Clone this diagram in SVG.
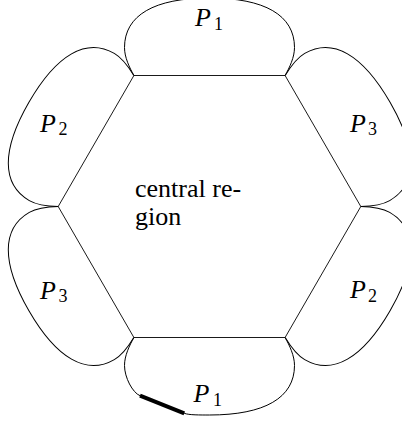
<svg xmlns="http://www.w3.org/2000/svg" width="402" height="424" viewBox="0 0 402 424">
<defs>
<path id="petalTop" d="M133.9 75.5 C129.5 67.5 124.5 57.5 124.5 47.5 C124.5 15.3 154.25 -2 209.5 -2 C264.75 -2 294.5 15.3 294.5 47.5 C294.5 57.5 289.5 67.5 285.1 75.5" fill="none" stroke="#000" stroke-width="1"/>
</defs>
<g id="central-region">
<polygon points="133.9,75.5 285.1,75.5 360.8,206.5 285.1,337.5 133.9,337.5 58.2,206.5" fill="none" stroke="#000" stroke-width="0.9"/>
</g>
<g id="petal-top-P1"><use href="#petalTop"/></g>
<g id="petal-upper-right-P3"><use href="#petalTop" transform="rotate(60 209.5 206.5)"/></g>
<g id="petal-lower-right-P2"><use href="#petalTop" transform="rotate(120 209.5 206.5)"/></g>
<g id="petal-bottom-P1">
<path d="M133.9 337.5 C129.5 345.5 124.5 355.5 124.5 365.5 C124.5 377.5 132.6 392.7 140 395.7 L184.3 413.3 C188.9 415.1 200 415 209.5 415 C264.75 415 294.5 397.7 294.5 365.5 C294.5 355.5 289.5 345.5 285.1 337.5" fill="none" stroke="#000" stroke-width="1"/>
<path d="M140 395.7 L184.3 413.3" fill="none" stroke="#000" stroke-width="4"/>
</g>
<g id="petal-lower-left-P3"><use href="#petalTop" transform="rotate(240 209.5 206.5)"/></g>
<g id="petal-upper-left-P2"><use href="#petalTop" transform="rotate(300 209.5 206.5)"/></g>
<text x="135" y="196.7" font-family="Times New Roman" font-size="26">central re-</text>
<text x="135" y="225" font-family="Times New Roman" font-size="26">gion</text>
<text x="195" y="25.5" font-family="Times New Roman" font-size="26" font-style="italic">P</text>
<text x="214" y="29.5" font-family="Times New Roman" font-size="18">1</text>
<text x="350" y="131.7" font-family="Times New Roman" font-size="26" font-style="italic">P</text>
<text x="368" y="135" font-family="Times New Roman" font-size="18">3</text>
<text x="350" y="297.5" font-family="Times New Roman" font-size="26" font-style="italic">P</text>
<text x="368" y="301.5" font-family="Times New Roman" font-size="18">2</text>
<text x="193.5" y="402" font-family="Times New Roman" font-size="26" font-style="italic">P</text>
<text x="213" y="406" font-family="Times New Roman" font-size="18">1</text>
<text x="40" y="298.5" font-family="Times New Roman" font-size="26" font-style="italic">P</text>
<text x="58.5" y="302" font-family="Times New Roman" font-size="18">3</text>
<text x="40" y="131.7" font-family="Times New Roman" font-size="26" font-style="italic">P</text>
<text x="58.5" y="135" font-family="Times New Roman" font-size="18">2</text>
</svg>
